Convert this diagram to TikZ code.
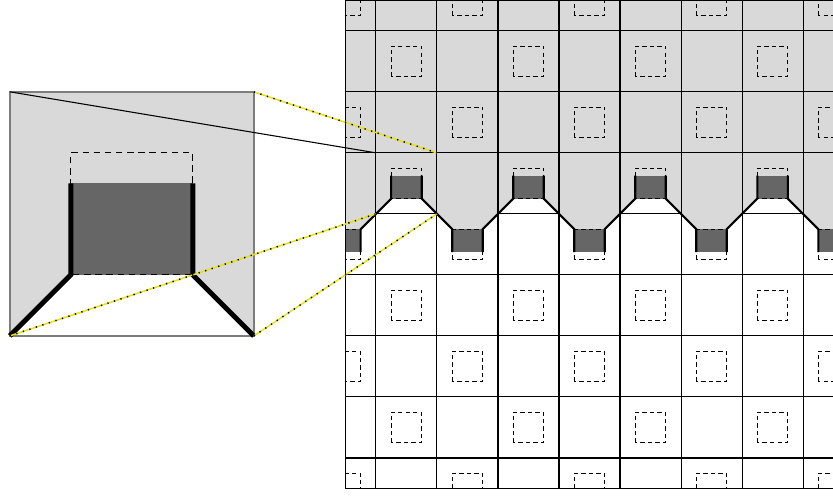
\documentclass[tikz,border=0pt]{standalone}
\usepackage{tikz}
\definecolor{celdagris}{RGB}{217,217,217}
\definecolor{bloqueoscuro}{RGB}{102,102,102}
\definecolor{guiaamarilla}{RGB}{232,226,12}
\definecolor{bordelupa}{RGB}{125,125,125}

\begin{document}
\begin{tikzpicture}[line width=0.5pt,
    cuadrito/.style={dash pattern=on 2pt off 1.5pt},
    cuadrolupa/.style={dash pattern=on 3pt off 2.2pt},
    muro/.style={line width=1pt},
    murolupa/.style={line width=2.3pt},
    guia/.style={guiaamarilla,line width=0.7pt},
    puntos/.style={black,line width=0.7pt,dash pattern=on 0.6pt off 2.6pt}]
    \useasboundingbox (-6.16,-4.62) rectangle (7.49,3.505);
    \fill[celdagris] (-6,-2) rectangle (-2,2);
    \fill[white] (-6,-2)--(-5,-1)--(-3,-1)--(-2,-2)--cycle;
    \fill[bloqueoscuro] (-5,-1) rectangle (-3,0.5);
    \draw[cuadrolupa] (-5,-1) rectangle (-3,1);
    \draw[bordelupa,line width=0.8pt] (-6,-2) rectangle (-2,2);
    \draw[murolupa] (-6,-2)--(-5,-1)--(-5,0.5);
    \draw[murolupa] (-2,-2)--(-3,-1)--(-3,0.5);
    \begin{scope}
        \clip (-0.5,-4.5) rectangle (7.5,3.5);
        \fill[celdagris] (-1,0) rectangle (8,4);
        \foreach \i in {0,2,4,6} \fill[white] (\i,0)--(\i+0.25,0.25)--(\i+0.75,0.25)--(\i+1,0)--cycle;
        \foreach \i in {-1,1,3,5,7} \fill[celdagris] (\i,0)--(\i+0.25,-0.25)--(\i+0.75,-0.25)--(\i+1,0)--cycle;
        \foreach \x in {0,...,7} \draw (\x,-5)--(\x,4);
        \foreach \y in {-4,-3,-2,-1,1,2,3} \draw (-1,\y)--(8,\y);
        \foreach \i in {0,2,4,6} \draw (\i,0)--(\i+1,0);
        \foreach \i/\s in {-1/-1,0/1,1/-1,2/1,3/-1,4/1,5/-1,6/1,7/-1}
            \fill[bloqueoscuro] (\i+0.25,0.25*\s) rectangle (\i+0.75,0.625*\s);
        \foreach \i in {-1,...,7} \foreach \j in {-5,...,3} {
            \pgfmathtruncatemacro\paridad{mod(\i+\j+20,2)}
            \ifnum\paridad=0 \draw[cuadrito] (\i+0.25,\j+0.25) rectangle (\i+0.75,\j+0.75); \fi
        }
        \foreach \i/\s in {0/1,1/-1,2/1,3/-1,4/1,5/-1,6/1,7/-1}
            \draw[muro] (\i-0.25,-0.625*\s)--(\i-0.25,-0.25*\s)--(\i,0)--(\i+0.25,0.25*\s)--(\i+0.25,0.625*\s);
    \end{scope}
    \draw (-0.5,-4.5) rectangle (7.5,3.5);
    \coordinate (lupaNO) at (-6,2);  \coordinate (celdaNO) at (0,1);
    \coordinate (lupaNE) at (-2,2);  \coordinate (celdaNE) at (1,1);
    \coordinate (lupaSO) at (-6,-2); \coordinate (celdaSO) at (0,0);
    \coordinate (lupaSE) at (-2,-2); \coordinate (celdaSE) at (1,0);
    \draw (lupaNO)--(celdaNO);
    \foreach \a/\b in {lupaNE/celdaNE,lupaSO/celdaSO,lupaSE/celdaSE} {
        \draw[guia] (\a)--(\b);
        \draw[puntos] (\a)--(\b);
    }
\end{tikzpicture}
\end{document}
